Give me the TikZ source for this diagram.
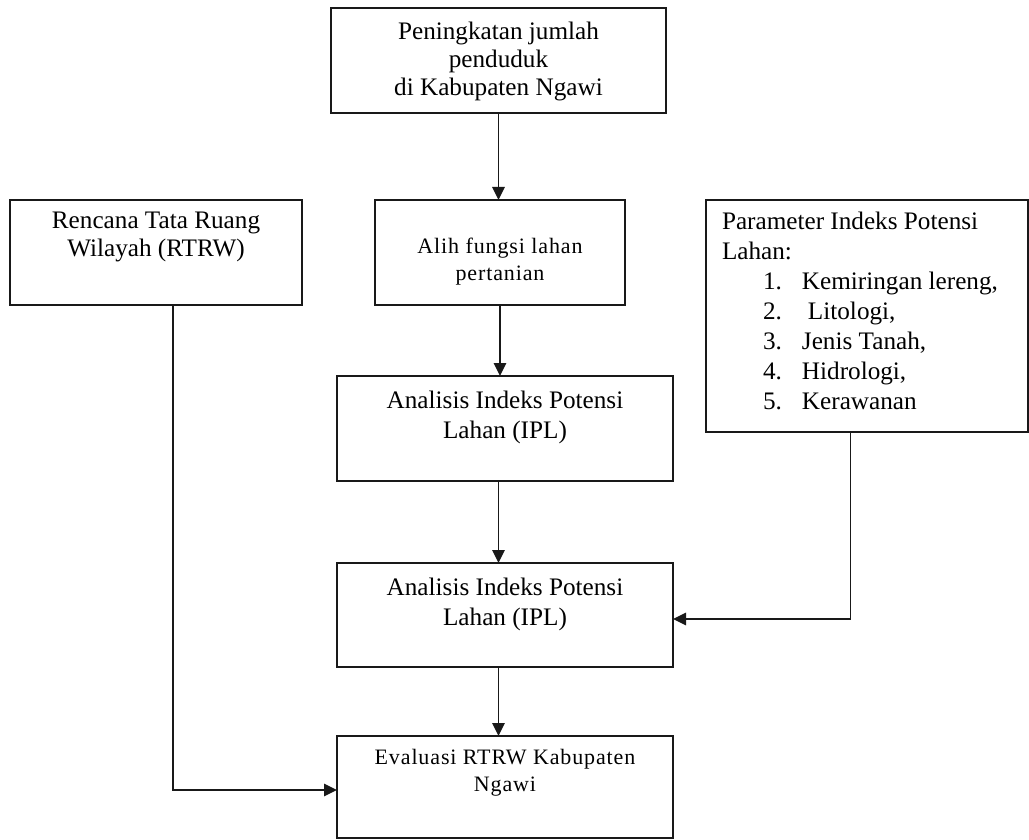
\documentclass[tikz,border=0pt]{standalone}
\usepackage{fontspec}
\setmainfont{Liberation Serif}
\newfontfamily\hurufrenggang[LetterSpace=4]{Liberation Serif}
\usepackage{tikz}
\usetikzlibrary{arrows.meta,calc,positioning}
\definecolor{garisgelap}{RGB}{25,25,25}
\newcommand{\isikotak}[4]{\parbox[c][#1][t]{#2}{\centering\vspace*{#3}#4\par}}
\tikzset{
 kotak/.style={draw=garisgelap,line width=.95pt,inner sep=0pt,outer sep=0pt},
 panah/.style={-{Triangle[length=6.5pt,width=6.2pt]},draw=garisgelap,line width=.95pt},
}

\begin{document}
\begin{tikzpicture}[x=.5pt,y=-.5pt,line join=miter,
 font=\fontsize{12.6}{14}\selectfont]
\useasboundingbox (0,0) rectangle (1029,840);
% Kotak alur utama di tengah.
\node[kotak] (atas) at (498.5,60.5)
 {\isikotak{52.5pt}{167.5pt}{7pt}{Peningkatan jumlah\\penduduk\\di Kabupaten Ngawi}};
\node[kotak] (alih) at (500,252.5)
 {\isikotak{52.5pt}{125pt}{19pt}{\hurufrenggang\fontsize{11}{13.5}\selectfont
 Alih fungsi lahan\\pertanian}};
\node[kotak] (ana1) at (505,428.5)
 {\isikotak{52.5pt}{168pt}{7.5pt}{\fontsize{12.6}{15}\selectfont
 Analisis Indeks Potensi\\Lahan (IPL)}};
\node[kotak] (ana2) at (505,615)
 {\isikotak{52pt}{168pt}{7.5pt}{\fontsize{12.6}{15}\selectfont
 Analisis Indeks Potensi\\Lahan (IPL)}};
\node[kotak] (evaluasi) at (505,787)
 {\isikotak{51pt}{168pt}{6.5pt}{\hurufrenggang\fontsize{11}{13.5}\selectfont
 Evaluasi RTRW Kabupaten\\Ngawi}};
% Kotak masukan di kiri dan kanan.
\node[kotak] (rtrw) at (156,252.5)
 {\isikotak{52.5pt}{146pt}{6pt}{Rencana Tata Ruang\\Wilayah (RTRW)}};
\node[kotak] (param) at (867,316)
 {\parbox[c][116pt][t]{161pt}{\raggedright\leftskip=8pt
 \fontsize{12.6}{15}\selectfont\vspace*{6pt}%
 Parameter Indeks Potensi\\
 Lahan:\\
 \hspace*{20.5pt}\makebox[19.5pt][l]{1.}Kemiringan lereng,\\
 \hspace*{20.5pt}\makebox[22.5pt][l]{2.}Litologi,\\
 \hspace*{20.5pt}\makebox[19.5pt][l]{3.}Jenis Tanah,\\
 \hspace*{20.5pt}\makebox[19.5pt][l]{4.}Hidrologi,\\
 \hspace*{20.5pt}\makebox[19.5pt][l]{5.}Kerawanan\par}};
% Panah alur.
\draw[panah] (atas.south) -- (atas.south |- alih.north);
\draw[panah] (alih.south) -- (alih.south |- ana1.north);
\draw[panah] (atas.south |- ana1.south) -- (atas.south |- ana2.north);
\draw[panah] (atas.south |- ana2.south) -- (atas.south |- evaluasi.north);
\draw[panah] ($(rtrw.south)+(17,0)$) |- ($(evaluasi.west)+(0,3)$);
\draw[panah] ($(param.south)+(-16.5,0)$) |- ($(ana2.east)+(0,4)$);
\end{tikzpicture}
\end{document}
